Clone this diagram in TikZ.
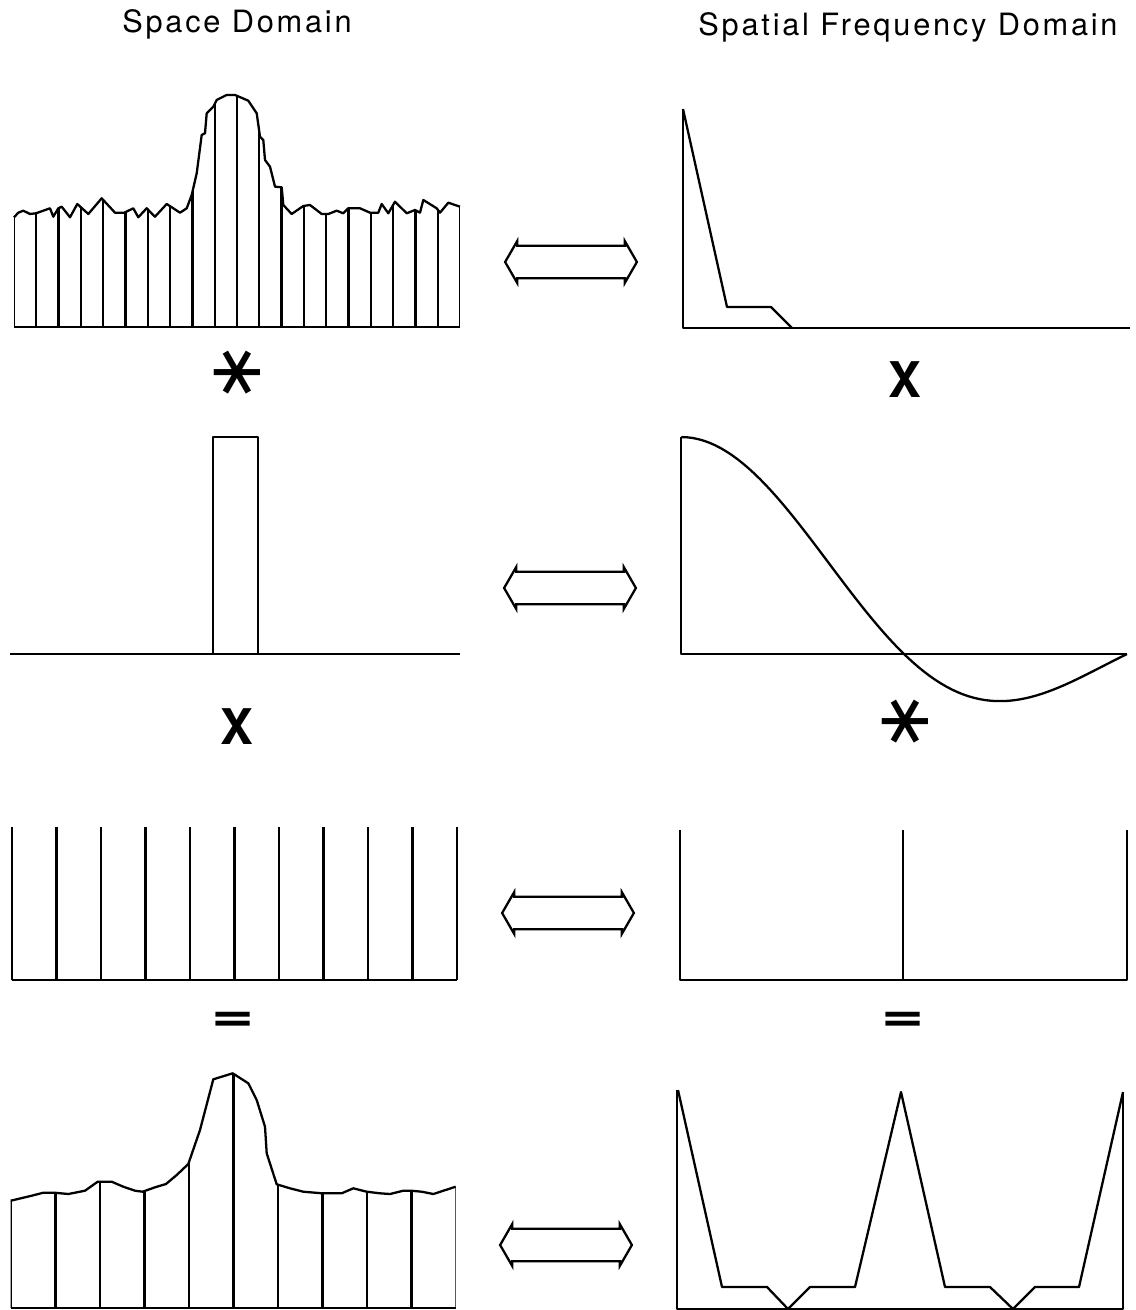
\documentclass[tikz,border=0pt]{standalone}
\usepackage{fontspec}
\usepackage{tikz}
\usetikzlibrary{shapes.arrows}
\setmainfont{TeX Gyre Heros}
\newfontfamily\titlefont[LetterSpace=9]{TeX Gyre Heros}
\newfontfamily\symfont{DejaVu Sans}

% noisy profile and its sampled version (pixel coordinates)
\def\profile{(14,217.3) -- (18.3,212.7) -- (23.3,210.7) -- (30,214) -- (36,213.3) -- (43.3,210.7) -- (50,208.3) -- (53.3,216.7) -- (58.3,208.3) -- (61.7,206.7) -- (70,217.3) -- (77.3,204) -- (88.3,214) -- (101.7,198.3) -- (115,212.7) -- (124.3,212.7) -- (133.3,208.3) -- (138.3,217.3) -- (146.7,208.3) -- (155,216.7) -- (166.7,204) -- (173.3,208.3) -- (180,212.7) -- (186.7,208.3) -- (191.7,195) -- (196.7,173.3) -- (201.7,135) -- (205,133.3) -- (206.7,113.3) -- (213.3,106.7) -- (216.7,100) -- (226.7,95) -- (235,95) -- (248.3,100.7) -- (256.7,113.3) -- (260,136.7) -- (263.3,140) -- (265,160) -- (270,166.7) -- (275,186.7) -- (281.7,187.3) -- (283.3,205) -- (291.7,214) -- (303.3,206) -- (310,205) -- (321.7,214) -- (328.3,214) -- (336.7,210.7) -- (343.3,213.3) -- (348.3,208.3) -- (360,208.3) -- (370,212.7) -- (378.3,212.7) -- (381.7,204) -- (388.3,213.3) -- (395,201.7) -- (406.7,213.3) -- (415,210) -- (420,212.7) -- (423.3,200) -- (436.7,208.3) -- (440,212.7) -- (448.3,202.7) -- (460,206.7)}
\def\sampled{(10.7,1200.7) -- (31.7,1195.7) -- (43.3,1192.7) -- (54.3,1192.7) -- (68.3,1194) -- (85,1190.7) -- (97.7,1181.7) -- (111.7,1181.7) -- (123.3,1186.7) -- (135,1190.7) -- (142.7,1191.7) -- (155,1187.3) -- (166,1184) -- (176.7,1175) -- (188.3,1164) -- (200,1130) -- (213.3,1079.3) -- (232.7,1073.3) -- (248.3,1083.3) -- (256.7,1100) -- (265,1126.7) -- (266.7,1153.3) -- (276.7,1184.3) -- (290,1188.3) -- (303.3,1191.7) -- (322.3,1193.3) -- (341.7,1193.3) -- (353.3,1188.3) -- (366.7,1191.7) -- (380,1193.3) -- (390,1194) -- (403.3,1190.7) -- (411,1190.7) -- (421.7,1191.7) -- (433.3,1194) -- (455.7,1186.7)}

\begin{document}
\begin{tikzpicture}[x=0.02cm,y=-0.02cm,
    curve/.style={line width=1.3pt,line join=round},
    fourier/.style={double arrow,draw,line width=1.3pt,inner xsep=0pt,inner ysep=8.6pt,
      minimum height=75pt,double arrow head extend=2.6pt,double arrow tip angle=120},
    opsym/.style={font=\bfseries\fontsize{28}{32}\selectfont},
    starsym/.style={font=\symfont\fontsize{42}{42}\selectfont,rotate=90}]
  \useasboundingbox (0,0) rectangle (1135,1310);

  % headings
  \node[font=\titlefont\fontsize{17.5}{20}\selectfont] (spaceT) at (237,24) {Space Domain};
  \node[font=\titlefont\fontsize{17.5}{20}\selectfont] (freqT) at (908,27) {Spatial Frequency Domain};

  % row 1: object profile
  \begin{scope}
    \clip (14,327) -- \profile -- (460,327) -- cycle;
    \foreach \i in {0,...,20}
      \draw[curve] ({14+22.3*\i},327) -- ({14+22.3*\i},80);
  \end{scope}
  \draw[curve] \profile;
  \draw[curve] (14,327) -- (460,327);
  \draw[curve] (683,109) -- (683,328) -- (1130,328);
  \draw[curve] (683,109) -- (727,307) -- (771,307) -- (792,328);

  % row 2: aperture
  \draw[curve] (10,654) -- (460,654);
  \draw[curve] (213,654) -- (213,437) -- (258,437) -- (258,654);
  \draw[curve] (681,437) -- (681,654) -- (1127,654);
  \draw[curve] plot[domain=0.001:2,samples=80] ({681+223*\x},{654-217*sin(180*\x)/(3.14159*\x)});

  % row 3: sampling comb
  \draw[curve] (12,980) -- (457,980);
  \foreach \i in {0,...,10}
    \draw[curve] ({12+44.5*\i},980) -- ({12+44.5*\i},827);
  \draw[curve] (680,830) -- (680,980) -- (1127,980) -- (1127,830);
  \draw[curve] (903,830) -- (903,980);

  % row 4: sampled profile
  \begin{scope}
    \clip (10.7,1308) -- \sampled -- (455.7,1308) -- cycle;
    \foreach \i in {0,...,10}
      \draw[curve] ({11+44.5*\i},1308) -- ({11+44.5*\i},1060);
  \end{scope}
  \draw[curve] \sampled;
  \draw[curve] (10.7,1308) -- (455.7,1308);
  \draw[curve] (677,1090) -- (677,1309) -- (1123,1309) -- (1123,1092);
  \draw[curve] (678,1090) -- (722,1287) -- (767,1287) -- (788,1309) -- (810,1287) -- (855,1287)
    -- (901,1092) -- (945,1287) -- (990,1287) -- (1013,1309) -- (1035,1287) -- (1079,1287) -- (1123,1092);

  % transform pairs
  \node[fourier] (ftA) at (571,262) {};
  \node[fourier] (ftB) at (570,588) {};
  \node[fourier] (ftC) at (568,913) {};
  \node[fourier] (ftD) at (566,1245) {};

  % operators
  \node[starsym] (convA) at (237,373) {∗};
  \node[opsym] (multA) at (905,380) {X};
  \node[opsym] (multB) at (237,727) {X};
  \node[starsym] (convB) at (905,722) {∗};
  \node[opsym,xscale=1.5] (eqA) at (233,1022) {=};
  \node[opsym,xscale=1.5] (eqB) at (903,1022) {=};
\end{tikzpicture}
\end{document}
